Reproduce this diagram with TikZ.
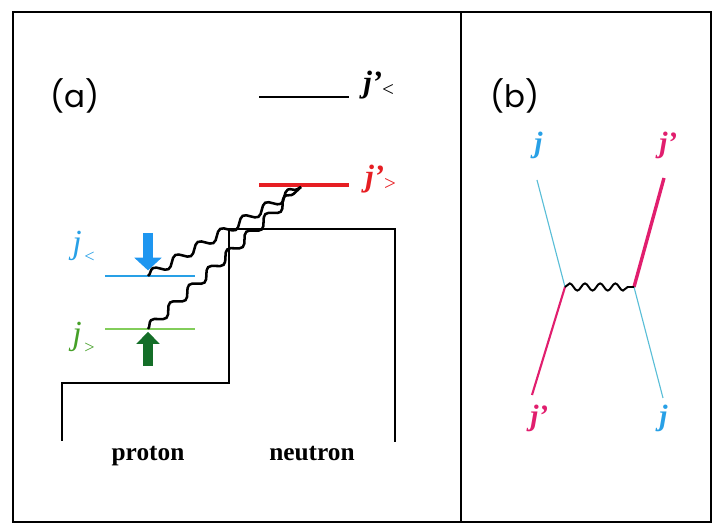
\documentclass[tikz,border=0pt]{standalone}
\usepackage{fontspec}
\setmainfont{Liberation Serif}
\newfontfamily\panelfont{Poppins}
\usetikzlibrary{arrows.meta, decorations.pathmorphing, positioning}
\definecolor{levelblue}{RGB}{40,160,230}
\definecolor{arrowblue}{RGB}{30,150,240}
\definecolor{labelgreen}{RGB}{70,160,40}
\definecolor{levelgreen}{RGB}{130,205,90}
\definecolor{arrowgreen}{RGB}{20,110,40}
\definecolor{levelred}{RGB}{230,30,35}
\definecolor{linemagenta}{RGB}{225,30,110}
\definecolor{lineblue}{RGB}{90,190,215}
\newcommand{\lowsub}[1]{\raisebox{-0.12em}{\mdseries\upshape\fontsize{15}{15}\selectfont #1}}

\begin{document}
\begin{tikzpicture}[
        x=0.025cm, y=-0.025cm,
        frame/.style={line width=1.4pt},
        level/.style={line width=2pt},
        well/.style={line width=1pt},
        wave/.style={decorate, decoration={snake, segment length=0.65cm, amplitude=0.11cm}, line width=1.8pt},
        smallwave/.style={decorate, decoration={snake, segment length=0.38cm, amplitude=0.09cm}, line width=1.4pt},
        bigarrow/.style={line width=7pt},
        panel/.style={font=\panelfont\fontsize{22}{24}\selectfont, inner sep=0pt},
        jlabel/.style={font=\fontsize{22}{24}\selectfont\bfseries\itshape, anchor=base west, inner sep=0pt},
        jlabelthin/.style={font=\fontsize{24}{26}\selectfont\itshape, anchor=base west, inner sep=0pt},
        side/.style={font=\fontsize{18}{20}\selectfont\bfseries, anchor=base, inner sep=0pt}
    ]
        \useasboundingbox (0,0) rectangle (713,525);

        % Frame
        \draw[frame] (13,12) rectangle (711,522);
        \draw[frame] (461,12) -- (461,522);

        % Panel (a)
        \node[panel] (pa) at (75,96) {(a)};

        \draw[well] (62,441) -- (62,383) -- (229,383) -- (229,229) -- (395,229) -- (395,442);
        \node[side] (proton) at (148,461) {proton};
        \node[side] (neutron) at (312,461) {neutron};

        \coordinate (jpl-l) at (259,97);
        \coordinate (jpl-r) at (349,97);
        \coordinate (jpg-l) at (259,185);
        \coordinate (jpg-r) at (349,185);
        \coordinate (jl-l) at (105,276);
        \coordinate (jl-r) at (195,276);
        \coordinate (jg-l) at (105,329);
        \coordinate (jg-r) at (195,329);

        \draw[level] (jpl-l) -- (jpl-r);
        \draw[level, levelred, line width=2.6pt] (jpg-l) -- (jpg-r);
        \draw[level, levelblue] (jl-l) -- (jl-r);
        \draw[level, levelgreen, line width=1.4pt] (jg-l) -- (jg-r);

        \node[jlabel] (jplabel) at (363,93) {j'\lowsub{<}};
        \node[jlabel, text=levelred] (jpglabel) at (365,187) {j'\lowsub{>}};
        \node[jlabelthin, text=levelblue] (jllabel) at (72,254) {j\kern2pt\raisebox{-0.25em}{\upshape\fontsize{13}{13}\selectfont <}};
        \node[jlabelthin, text=labelgreen] (jglabel) at (72,345) {j\kern2pt\raisebox{-0.25em}{\upshape\fontsize{13}{13}\selectfont >}};

        % holes and particles
        \coordinate (jl-a) at (148,276);
        \coordinate (jg-a) at (148,329);
        \coordinate (jpg-a) at (301,187);
        \coordinate (downtail) at (148,233);
        \coordinate (uptail) at (148,366);

        \draw[bigarrow, arrowblue, -{Triangle[width=19pt,length=9pt]}] (downtail) -- ([yshift=4pt]jl-a);
        \draw[bigarrow, arrowgreen, -{Triangle[width=16pt,length=8.5pt]}] (uptail) -- ([yshift=-2pt]jg-a);

        \draw[wave] (jl-a) -- (jpg-a);
        \draw[wave] (jg-a) -- (jpg-a);

        % Panel (b)
        \node[panel] (pb) at (515,96) {(b)};

        \coordinate (v1) at (565,287);
        \coordinate (v2) at (634,287);
        \coordinate (in-j) at (537,180);
        \coordinate (out-jp) at (532,395);
        \coordinate (out-jp2) at (664,178);
        \coordinate (in-j2) at (663,398);

        \draw[lineblue, line width=0.8pt] (in-j) -- (v1);
        \draw[linemagenta, line width=1.5pt] (v1) -- (out-jp);
        \draw[linemagenta, line width=2.4pt] (v2) -- (out-jp2);
        \draw[lineblue, line width=0.8pt] (v2) -- (in-j2);
        \draw[smallwave] (v1) -- (v2);

        \node[jlabel, text=levelblue, font=\fontsize{21}{23}\selectfont\bfseries\itshape] (jtl) at (534,153) {j};
        \node[jlabel, text=linemagenta, font=\fontsize{21}{23}\selectfont\bfseries\itshape] (jtr) at (659,153) {j'};
        \node[jlabel, text=linemagenta, font=\fontsize{21}{23}\selectfont\bfseries\itshape] (jbl) at (530,426) {j'};
        \node[jlabel, text=levelblue, font=\fontsize{21}{23}\selectfont\bfseries\itshape] (jbr) at (659,426) {j};
    \end{tikzpicture}
\end{document}
